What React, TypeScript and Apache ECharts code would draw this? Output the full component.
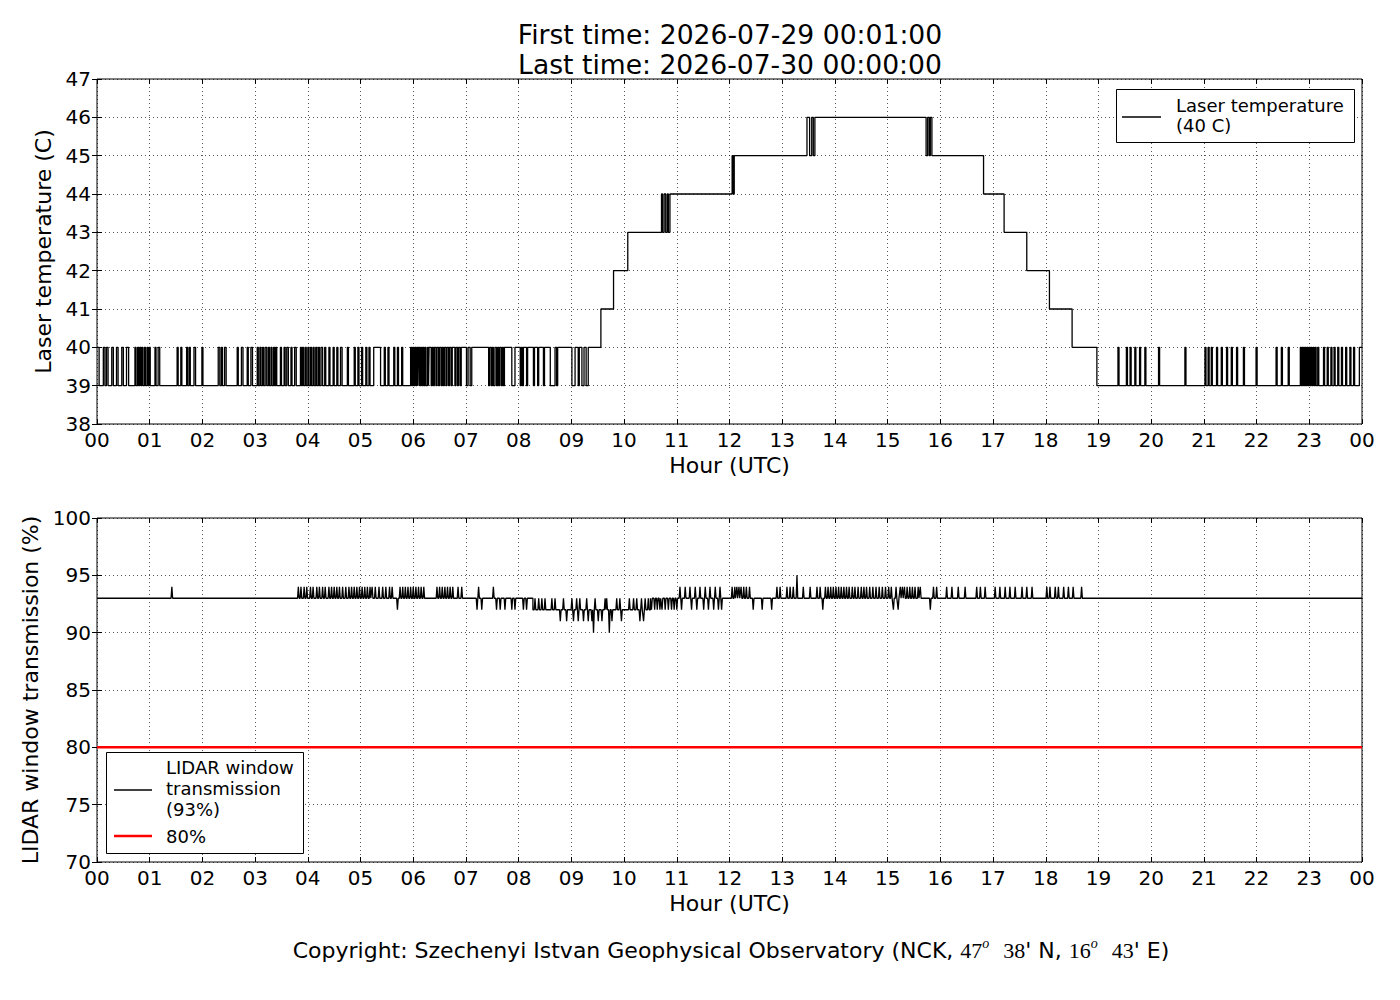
import React, { useEffect, useRef } from "react";
import * as echarts from "echarts";

// ---------- tick labels ----------
const hourLabels = [
  "00", "01", "02", "03", "04", "05", "06", "07", "08", "09", "10", "11",
  "12", "13", "14", "15", "16", "17", "18", "19", "20", "21", "22", "23", "00",
];

// ---------- laser temperature (hours, deg C) ----------
// base level changes: [hour, value]
const tempSteps: number[][] = [
  [0, 39], [6.3, 40], [9.56, 41], [9.8, 42], [10.07, 43], [10.87, 44],
  [12.09, 45], [13.62, 46], [15.73, 45], [16.82, 44], [17.21, 43],
  [17.64, 42], [18.07, 41], [18.5, 40], [18.97, 39],
];
// intervals one degree above the base level: [start, end]
const tempUpPulses: number[][] = [
  [0.0, 0.04], [0.12, 0.15], [0.18, 0.21], [0.28, 0.31], [0.37, 0.4], [0.47, 0.5],
  [0.56, 0.6], [0.72, 0.74], [0.77, 0.79], [0.81, 0.83], [0.85, 0.87], [0.9, 0.92],
  [0.95, 0.97], [0.99, 1.01], [1.1, 1.12], [1.16, 1.19], [1.52, 1.54], [1.59, 1.61],
  [1.7, 1.72], [1.75, 1.77], [1.84, 1.87], [1.99, 2.01], [2.3, 2.33], [2.36, 2.38],
  [2.42, 2.45], [2.66, 2.68], [2.74, 2.77], [2.85, 2.87], [2.92, 2.95], [3.04, 3.06],
  [3.09, 3.11], [3.14, 3.16], [3.19, 3.22], [3.25, 3.27], [3.3, 3.32], [3.35, 3.37],
  [3.39, 3.41], [3.48, 3.5], [3.55, 3.57], [3.6, 3.63], [3.68, 3.7], [3.75, 3.78],
  [3.86, 3.88], [3.9, 3.92], [3.95, 3.97], [4.0, 4.02], [4.05, 4.07], [4.1, 4.12],
  [4.15, 4.17], [4.2, 4.22], [4.25, 4.28], [4.32, 4.34], [4.4, 4.42], [4.48, 4.5],
  [4.55, 4.57], [4.62, 4.65], [4.75, 4.77], [4.88, 4.9], [4.95, 4.97], [5.02, 5.04],
  [5.1, 5.12], [5.16, 5.18], [5.25, 5.38], [5.45, 5.47], [5.52, 5.54], [5.63, 5.65],
  [5.7, 5.72], [5.78, 5.8], [5.95, 5.97], [5.99, 6.01], [6.03, 6.05], [6.07, 6.09],
  [6.1, 6.12], [6.14, 6.16], [6.18, 6.2], [6.22, 6.24], [6.27, 6.29],
  [10.71, 10.73], [10.76, 10.79], [10.82, 10.84], [12.05, 12.07],
  [13.47, 13.52], [13.56, 13.59], [15.76, 15.79], [15.81, 15.84],
  [19.37, 19.39], [19.53, 19.55], [19.6, 19.62], [19.69, 19.71], [19.78, 19.8],
  [19.88, 19.9], [20.14, 20.16], [20.64, 20.66], [21.02, 21.04], [21.08, 21.1],
  [21.14, 21.16], [21.24, 21.26], [21.33, 21.35], [21.43, 21.45], [21.52, 21.54],
  [21.62, 21.64], [21.75, 21.77], [21.99, 22.01], [22.37, 22.39], [22.47, 22.49],
  [22.6, 22.62], [22.83, 22.85], [22.87, 22.89], [22.91, 22.93], [22.95, 22.97],
  [22.99, 23.01], [23.03, 23.05], [23.07, 23.09], [23.11, 23.13], [23.16, 23.18],
  [23.27, 23.29], [23.34, 23.36], [23.41, 23.43], [23.47, 23.49], [23.54, 23.56],
  [23.61, 23.63], [23.69, 23.71], [23.77, 23.79], [23.84, 23.86], [23.95, 24],
];
// intervals one degree below the base level: [start, end]
const tempDownPulses: number[][] = [
  [6.34, 6.36], [6.38, 6.4], [6.43, 6.45], [6.48, 6.5], [6.53, 6.55], [6.57, 6.59],
  [6.62, 6.64], [6.67, 6.69], [6.72, 6.74], [6.79, 6.81], [6.84, 6.86], [6.89, 6.91],
  [7.01, 7.04], [7.08, 7.11], [7.43, 7.45], [7.48, 7.5], [7.52, 7.55], [7.58, 7.6],
  [7.62, 7.64], [7.67, 7.69], [7.71, 7.73], [7.87, 7.93], [8.03, 8.05], [8.07, 8.09],
  [8.15, 8.17], [8.28, 8.3], [8.36, 8.38], [8.47, 8.49], [8.6, 8.69], [8.72, 8.74],
  [9.01, 9.07], [9.13, 9.15], [9.2, 9.24], [9.28, 9.32],
];

// ---------- LIDAR window transmission (hours, %) ----------
const lidarSteps: number[][] = [[0, 93], [8.27, 92], [10.5, 93]];
const spikes95: number[] = [13.28];
const spikes94: number[] = [
  1.42,
  3.82, 3.87, 3.93, 3.98, 4.05, 4.1, 4.17, 4.22, 4.28, 4.33, 4.4, 4.45, 4.5, 4.55,
  4.6, 4.66, 4.72, 4.78, 4.83, 4.88, 4.93, 4.98, 5.03, 5.08, 5.13, 5.18, 5.22,
  5.28, 5.35, 5.42, 5.48, 5.55, 5.6, 5.75, 5.8, 5.85, 5.9, 5.95, 6.0, 6.05, 6.1,
  6.15, 6.2, 6.45, 6.5, 6.55, 6.6, 6.65, 6.7, 6.75, 6.85, 6.92, 7.24, 7.52,
  11.06, 11.16, 11.25, 11.35, 11.44, 11.54, 11.63, 11.73, 11.82,
  12.05, 12.1, 12.14, 12.18, 12.22, 12.27, 12.32, 12.38,
  12.9, 12.96, 13.09, 13.15, 13.21, 13.4, 13.53, 13.66, 13.72,
  13.82, 13.87, 13.92, 13.97, 14.02, 14.07, 14.12, 14.17, 14.22, 14.27, 14.33,
  14.38, 14.44, 14.5, 14.55, 14.6, 14.66, 14.72, 14.78, 14.84, 14.9, 14.96, 15.02,
  15.07, 15.16, 15.24, 15.28, 15.32, 15.37, 15.42, 15.47, 15.52, 15.58, 15.62,
  15.87, 15.93, 16.12, 16.22, 16.34, 16.47, 16.69, 16.76, 16.85, 17.04, 17.13,
  17.23, 17.32, 17.42, 17.55, 17.64, 17.74, 18.02, 18.08, 18.18, 18.24, 18.34,
  18.43, 18.52, 18.68,
];
const spikes93: number[] = [
  8.31, 8.38, 8.44, 8.5, 8.63, 8.69, 8.85, 9.01, 9.1, 9.16, 9.29, 9.45, 9.64,
  9.67, 9.86, 9.92, 10.1, 10.18, 10.24, 10.33, 10.4, 10.46,
];
const spikes92: number[] = [
  5.7, 7.21, 7.3, 7.58, 7.65, 7.74, 7.87, 7.93, 8.09, 8.15,
  10.52, 10.58, 10.63, 10.68, 10.72, 10.78, 10.84, 10.9, 10.95, 11.0, 11.09,
  11.28, 11.38, 11.51, 11.6, 11.7, 11.79, 11.85, 12.45, 12.62, 12.8, 13.77,
  15.11, 15.2, 15.81,
];
const spikes91: number[] = [
  8.79, 8.91, 9.04, 9.13, 9.23, 9.32, 9.39, 9.51, 9.58, 9.77, 9.95, 10.3, 10.37,
];
const spikes90: number[] = [9.42, 9.72];
const thresholdLevel = 80;

// ---------- builders ----------
function buildTemp(): number[][] {
  const set = new Set<number>();
  tempSteps.forEach((s) => set.add(s[0]));
  tempUpPulses.forEach((p) => { set.add(p[0]); set.add(p[1]); });
  tempDownPulses.forEach((p) => { set.add(p[0]); set.add(p[1]); });
  const times = Array.from(set).filter((t) => t < 24).sort((a, b) => a - b);
  const valueAt = (t: number) => {
    let base = tempSteps[0][1];
    for (const s of tempSteps) if (s[0] <= t) base = s[1];
    let v = base;
    if (tempUpPulses.some((p) => p[0] <= t && t < p[1])) v += 1;
    if (tempDownPulses.some((p) => p[0] <= t && t < p[1])) v -= 1;
    return v;
  };
  const data = times.map((t) => [t, valueAt(t)]);
  data.push([24, data[data.length - 1][1]]);
  return data;
}

function buildLidar(): number[][] {
  const baseAt = (t: number) => {
    let b = lidarSteps[0][1];
    for (const s of lidarSteps) if (s[0] <= t) b = s[1];
    return b;
  };
  const pts: number[][] = [];
  lidarSteps.forEach((s, i) => {
    if (i === 0) pts.push([0, s[1]]);
    else {
      pts.push([s[0], lidarSteps[i - 1][1]]);
      pts.push([s[0], s[1]]);
    }
  });
  const d = 0.015;
  const add = (list: number[], v: number) =>
    list.forEach((t) => {
      const b = baseAt(t);
      pts.push([t - d, b], [t, v], [t + d, b]);
    });
  add(spikes95, 95);
  add(spikes94, 94);
  add(spikes93, 93);
  add(spikes92, 92);
  add(spikes91, 91);
  add(spikes90, 90);
  pts.push([24, baseAt(24)]);
  const idx = pts.map((p, i) => ({ p, i }));
  idx.sort((a, b) => a.p[0] - b.p[0] || a.i - b.i);
  return idx.map((o) => o.p);
}

const FONT = "DejaVu Sans";
const GL = 97;
const GW = 1265;

function makeX(gridIndex: number, withName: boolean, top: boolean) {
  return {
    type: "value",
    gridIndex,
    min: 0,
    max: 24,
    interval: 1,
    position: top ? "top" : "bottom",
    axisLine: { show: false },
    axisTick: { show: true, inside: true, length: 5, lineStyle: { color: "#000", width: 1 } },
    axisLabel: top
      ? { show: false }
      : {
          show: true,
          margin: 6,
          fontSize: 20,
          color: "#000",
          fontFamily: FONT,
          showMinLabel: true,
          showMaxLabel: true,
          formatter: (v: number) => hourLabels[Math.round(v)],
        },
    splitLine: top
      ? { show: false }
      : { show: true, lineStyle: { color: "#000", width: 1, type: [1, 3], opacity: 0.65 } },
    name: withName ? "Hour (UTC)" : "",
    nameLocation: "middle",
    nameGap: 30,
    nameTextStyle: { fontSize: 22, color: "#000", fontFamily: FONT },
  };
}

function makeY(gridIndex: number, min: number, max: number, interval: number, name: string, gap: number, right: boolean) {
  return {
    type: "value",
    gridIndex,
    min,
    max,
    interval,
    position: right ? "right" : "left",
    axisLine: { show: false },
    axisTick: { show: true, inside: true, length: 5, lineStyle: { color: "#000", width: 1 } },
    axisLabel: right
      ? { show: false }
      : {
          show: true,
          margin: 6,
          fontSize: 20,
          color: "#000",
          fontFamily: FONT,
          showMinLabel: true,
          showMaxLabel: true,
        },
    splitLine: right
      ? { show: false }
      : { show: true, lineStyle: { color: "#000", width: 1, type: [1, 3], opacity: 0.65 } },
    name: right ? "" : name,
    nameLocation: "middle",
    nameGap: gap,
    nameTextStyle: { fontSize: 22, color: "#000", fontFamily: FONT },
  };
}

export default function App() {
  const ref = useRef<HTMLDivElement>(null);

  useEffect(() => {
    if (!ref.current) return;
    const chart = echarts.init(ref.current, null, { renderer: "svg" });
    const tempData = buildTemp();
    const lidarData = buildLidar();

    const txt = (text: string, x: number, y: number, size: number, align = "left") => ({
      type: "text",
      x,
      y,
      style: {
        text,
        fontSize: size,
        fontFamily: FONT,
        fill: "#000",
        textAlign: align,
        align,
        textVerticalAlign: "middle",
        verticalAlign: "middle",
      },
    });

    const option: any = {
      animation: false,
      backgroundColor: "#fff",
      grid: [
        { left: GL, top: 79, width: GW, height: 345, show: true, borderColor: "#000", borderWidth: 1, backgroundColor: "transparent" },
        { left: GL, top: 518, width: GW, height: 344, show: true, borderColor: "#000", borderWidth: 1, backgroundColor: "transparent" },
      ],
      xAxis: [makeX(0, true, false), makeX(0, false, true), makeX(1, true, false), makeX(1, false, true)],
      yAxis: [
        makeY(0, 38, 47, 1, "Laser temperature (C)", 34, false),
        makeY(0, 38, 47, 1, "", 0, true),
        makeY(1, 70, 100, 5, "LIDAR window transmission (%)", 46, false),
        makeY(1, 70, 100, 5, "", 0, true),
      ],
      series: [
        {
          name: "Laser temperature (40 C)",
          type: "line",
          xAxisIndex: 0,
          yAxisIndex: 0,
          step: "end",
          data: tempData,
          showSymbol: false,
          symbol: "none",
          lineStyle: { color: "#000", width: 1.3 },
          itemStyle: { color: "#000" },
          z: 3,
        },
        {
          name: "LIDAR window transmission (93%)",
          type: "line",
          xAxisIndex: 2,
          yAxisIndex: 2,
          data: lidarData,
          showSymbol: false,
          symbol: "none",
          lineStyle: { color: "#000", width: 1.3 },
          itemStyle: { color: "#000" },
          z: 3,
        },
        {
          name: "80%",
          type: "line",
          xAxisIndex: 2,
          yAxisIndex: 2,
          data: [[0, thresholdLevel], [24, thresholdLevel]],
          showSymbol: false,
          symbol: "none",
          lineStyle: { color: "#ff0000", width: 2.5 },
          itemStyle: { color: "#ff0000" },
          z: 4,
        },
      ],
      graphic: [
        txt("First time: 2026-07-29 00:01:00", 730, 34, 26.6, "center"),
        txt("Last time: 2026-07-30 00:00:00", 730, 64, 26.6, "center"),
        // top legend
        {
          type: "rect",
          shape: { x: 1116.5, y: 89.5, width: 238, height: 53 },
          style: { fill: "#fff", stroke: "#000", lineWidth: 1 },
          z: 10,
        },
        {
          type: "line",
          shape: { x1: 1122, y1: 117, x2: 1161, y2: 117 },
          style: { stroke: "#000", lineWidth: 1.3 },
          z: 11,
        },
        { ...txt("Laser temperature", 1176, 105, 18), z: 11 },
        { ...txt("(40 C)", 1176, 125, 18), z: 11 },
        // bottom legend
        {
          type: "rect",
          shape: { x: 106.5, y: 752.5, width: 197, height: 101 },
          style: { fill: "#fff", stroke: "#000", lineWidth: 1 },
          z: 10,
        },
        { ...txt("LIDAR window", 166, 767, 18), z: 11 },
        { ...txt("transmission", 166, 788, 18), z: 11 },
        { ...txt("(93%)", 166, 809, 18), z: 11 },
        {
          type: "line",
          shape: { x1: 114, y1: 790, x2: 152, y2: 790 },
          style: { stroke: "#000", lineWidth: 1.3 },
          z: 11,
        },
        {
          type: "line",
          shape: { x1: 114, y1: 836, x2: 152, y2: 836 },
          style: { stroke: "#ff0000", lineWidth: 2.5 },
          z: 11,
        },
        { ...txt("80%", 166, 836, 18), z: 11 },
        // copyright
        {
          type: "text",
          x: 731,
          y: 950,
          style: {
            text:
              "Copyright: Szechenyi Istvan Geophysical Observatory (NCK, {m|47}{s|o}  {m|38}' N, {m|16}{s|o}  {m|43}' E)",
            fontSize: 22,
            fontFamily: FONT,
            fill: "#000",
            textAlign: "center",
            align: "center",
            textVerticalAlign: "middle",
            verticalAlign: "middle",
            rich: {
              m: { fontSize: 22, fontFamily: "Liberation Serif", fill: "#000", lineHeight: 28 },
              s: { fontSize: 14, fontFamily: "Liberation Serif", fontStyle: "italic", fill: "#000", verticalAlign: "top", lineHeight: 15 },
            },
          },
        },
      ],
    };
    chart.setOption(option);
    return () => chart.dispose();
  }, []);

  return (
    <div
      ref={ref}
      style={{ position: "fixed", left: 0, top: 0, width: 1400, height: 1000, background: "#fff" }}
    />
  );
}
